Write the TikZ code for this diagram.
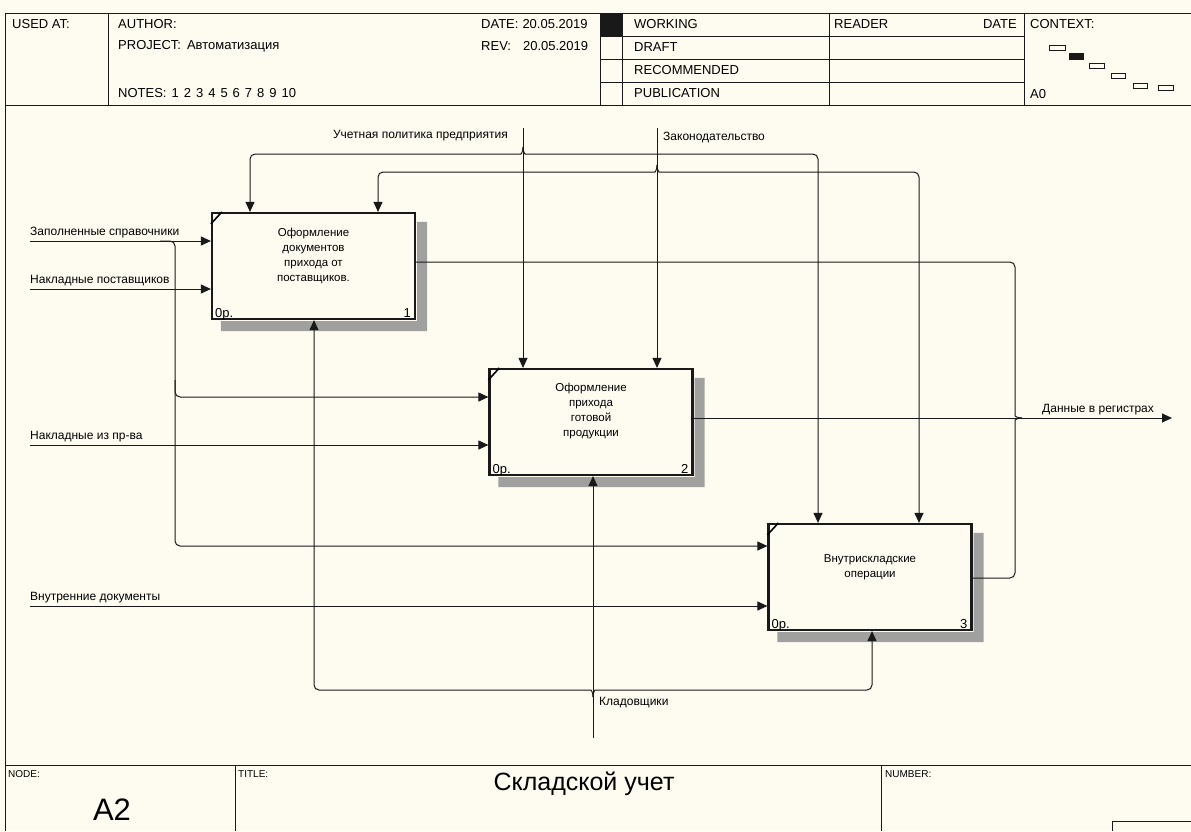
\documentclass[tikz,border=0pt]{standalone}
\usepackage{fontspec}
\setmainfont{Liberation Sans}
\usetikzlibrary{arrows.meta, calc, backgrounds}
\definecolor{idefpaper}{RGB}{254, 251, 241}
\definecolor{idefink}{RGB}{25, 25, 25}
\definecolor{idefshade}{RGB}{160, 160, 158}

\begin{document}
\begin{tikzpicture}[x=1pt, y=-1pt,
    frame/.style={draw=idefink, line width=0.8pt},
    fbox/.style={draw=idefink, line width=2.2pt, minimum width=203pt, minimum height=106pt, inner sep=0pt},
    btext/.style={font=\fontsize{11.5}{15}\selectfont, align=center, inner sep=0pt},
    bnum/.style={font=\fontsize{13}{13}\selectfont, inner sep=0pt},
    flow/.style={draw=idefink, line width=1pt, rounded corners=5pt},
    arr/.style={flow, -{Triangle[length=10pt, width=9pt]}},
    lbl/.style={font=\fontsize{12}{14}\selectfont, inner sep=0pt},
    hdr/.style={font=\fontsize{13}{15}\selectfont, anchor=west, inner sep=0pt},
    ctx/.style={draw=idefink, line width=0.7pt}]
  \useasboundingbox (0,0) rectangle (1191,831);

  % Frame
  \draw[frame] (5,831) -- (5,13) -- (1191,13);
  \draw[frame] (5,105) -- (1191,105);
  \draw[frame] (5,765) -- (1191,765);
  \foreach \x in {108,600,622,829,1024}
    \draw[frame] (\x,13) -- (\x,105);
  \foreach \y in {36,59,82}
    \draw[frame] (600,\y) -- (1024,\y);
  \fill[idefink] (600,13) rectangle (622,36);
  \foreach \x in {235,881}
    \draw[frame] (\x,765) -- (\x,831);
  \draw[frame] (1112,831) -- (1112,821) -- (1191,821);

  % Header
  \node[hdr] (usedat) at (12,24) {USED AT:};
  \node[hdr] (author) at (118,24) {AUTHOR:};
  \node[hdr] (project) at (118,46) {PROJECT:\hspace{6pt}Автоматизация};
  \node[hdr] (notes) at (118,93) {NOTES:\hspace{5pt}1\hspace{5pt}2\hspace{5pt}3\hspace{5pt}4\hspace{5pt}5\hspace{5pt}6\hspace{5pt}7\hspace{5pt}8\hspace{5pt}9\hspace{5pt}10};
  \node[hdr] (date) at (481,24) {DATE:\hspace{4pt}20.05.2019};
  \node[hdr] (rev) at (481,46) {REV:\hspace{12pt}20.05.2019};
  \node[hdr] (working) at (634,24) {WORKING};
  \node[hdr] (draft) at (634,47) {DRAFT};
  \node[hdr] (recomm) at (634,70) {RECOMMENDED};
  \node[hdr] (public) at (634,93) {PUBLICATION};
  \node[hdr] (reader) at (834,24) {READER};
  \node[hdr, anchor=east] (rdate) at (1017,24) {DATE};
  \node[hdr] (context) at (1030,24) {CONTEXT:};
  \node[hdr] (ctxnode) at (1030,94) {A0};
  \draw[ctx] (1049,45) rectangle (1065,50);
  \fill[idefink] (1069,53) rectangle (1084,60);
  \draw[ctx] (1089,63) rectangle (1104,68);
  \draw[ctx] (1111,73) rectangle (1125,78);
  \draw[ctx] (1133,83) rectangle (1147,88);
  \draw[ctx] (1158,85) rectangle (1173,90);

  % Footer
  \node[hdr, font=\fontsize{10}{12}\selectfont] (nodelbl) at (8,774) {NODE:};
  \node[hdr, font=\fontsize{10}{12}\selectfont] (titlelbl) at (238,774) {TITLE:};
  \node[hdr, font=\fontsize{10}{12}\selectfont] (numlbl) at (885,774) {NUMBER:};
  \node[font=\fontsize{31}{34}\selectfont, inner sep=0pt] (nodeno) at (112,810) {A2};
  \node[font=\fontsize{25}{28}\selectfont, inner sep=0pt] (title) at (584,784) {Складской учет};

  % Activities
  \node[fbox] (b1) at (313.5,266) {};
  \node[fbox] (b2) at (591,422) {};
  \node[fbox] (b3) at (870,577) {};
  \begin{scope}[on background layer]
    \fill[idefpaper] (0,0) rectangle (1191,831);
    \foreach \b in {b1,b2,b3}
      \fill[idefshade] ($(\b.north east)+(1,10)$) -- ++(10,0) -- ($(\b.south east)+(11,11)$)
        -- ($(\b.south west)+(10,11)$) -- ++(0,-10) -- ($(\b.south east)+(1,1)$) -- cycle;
  \end{scope}
  \foreach \b/\n in {b1/1,b2/2,b3/3} {
    \draw[line width=1.6pt] ($(\b.north west)+(0,12)$) -- ($(\b.north west)+(11,0)$);
    \node[bnum, anchor=base west] (\b cost) at ($(\b.south west)+(4,-3)$) {0р.};
    \node[bnum, anchor=base east] (\b num) at ($(\b.south east)+(-5,-3)$) {\n};
  }
  \node[btext] (t1) at ($(b1.north)+(0,44)$) {Оформление\\документов\\прихода от\\поставщиков.};
  \node[btext] (t2) at ($(b2.north)+(0,43.5)$) {Оформление\\прихода\\готовой\\продукции};
  \node[btext] (t3) at ($(b3.north)+(0,44)$) {Внутрискладские\\операции};

  % Arrow ends and bends
  \coordinate (ctl1) at (523,128);
  \coordinate (ctl2) at (657,128);
  \coordinate (mech) at (593,738);
  \coordinate (in1) at (30,241);
  \coordinate (in2) at (30,289);
  \coordinate (in3) at (30,445);
  \coordinate (in4) at (30,606);
  \coordinate (out) at (1172,418);
  \coordinate (j1) at (523,147);
  \coordinate (j2) at (657,165);
  \coordinate (j3) at (593,697);
  \coordinate (j4) at (1022,418);
  \coordinate (c1l) at (250,154);
  \coordinate (c1r) at (818,154);
  \coordinate (c2l) at (378,172);
  \coordinate (c2r) at (919,172);
  \coordinate (m1l) at (314,690);
  \coordinate (m1r) at (872,690);
  \coordinate (s0) at (160,241);
  \coordinate (s1) at (175,241);
  \coordinate (s2) at (175,546);
  \coordinate (s3a) at (175,380);
  \coordinate (s3) at (175,397);
  \coordinate (o1) at ($(b1.east)+(0,-4)$);
  \coordinate (o2) at ($(b2.east)+(0,-4)$);
  \coordinate (o3) at ($(b3.east)+(0,1)$);
  \coordinate (r1) at (1015,262);
  \coordinate (r3) at (1015,578);

  % Controls
  \draw[arr] (ctl1) -- (ctl1 |- b2.north);
  \draw[arr] (j1) .. controls (523,152) and (521,154) .. (516,154) -- (c1l) -- (c1l |- b1.north);
  \draw[arr] (j1) .. controls (523,152) and (525,154) .. (530,154) -- (c1r) -- (c1r |- b3.north);
  \draw[arr] (ctl2) -- (ctl2 |- b2.north);
  \draw[arr] (j2) .. controls (657,170) and (655,172) .. (650,172) -- (c2l) -- (c2l |- b1.north);
  \draw[arr] (j2) .. controls (657,170) and (659,172) .. (664,172) -- (c2r) -- (c2r |- b3.north);

  % Inputs
  \draw[arr] (in1) -- (in1 -| b1.west);
  \draw[arr] (in2) -- (in2 -| b1.west);
  \draw[arr] (in3) -- (in3 -| b2.west);
  \draw[arr] (in4) -- (in4 -| b3.west);
  \draw[arr] (s0) -- (s1) -- (s2) -- (s2 -| b3.west);
  \draw[arr] (s3a) -- (s3) -- (s3 -| b2.west);

  % Mechanism
  \draw[arr] (mech) -- (mech |- b2.south);
  \draw[arr] (j3) .. controls (593,692) and (591,690) .. (586,690) -- (m1l) -- (m1l |- b1.south);
  \draw[arr] (j3) .. controls (593,692) and (595,690) .. (600,690) -- (m1r) -- (m1r |- b3.south);

  % Outputs
  \draw[arr] (o2) -- (out);
  \draw[flow] (o1) -- (r1) -- (1015,411) .. controls (1015,416) and (1017,418) .. (j4);
  \draw[flow] (o3) -- (r3) -- (1015,425) .. controls (1015,420) and (1017,418) .. (j4);

  % Labels
  \node[lbl, anchor=east] (lpolicy) at (508,136) {Учетная политика предприятия};
  \node[lbl, anchor=west] (llaw) at (663,138) {Законодательство};
  \node[lbl, anchor=west] (lref) at (30,233) {Заполненные справочники};
  \node[lbl, anchor=west] (lsupp) at (30,281) {Накладные поставщиков};
  \node[lbl, anchor=west] (lprod) at (30,437) {Накладные из пр-ва};
  \node[lbl, anchor=west] (lint) at (30,598) {Внутренние документы};
  \node[lbl, anchor=west] (lreg) at (1042,410) {Данные в регистрах};
  \node[lbl, anchor=west] (lkeep) at (599,703) {Кладовщики};
\end{tikzpicture}
\end{document}
